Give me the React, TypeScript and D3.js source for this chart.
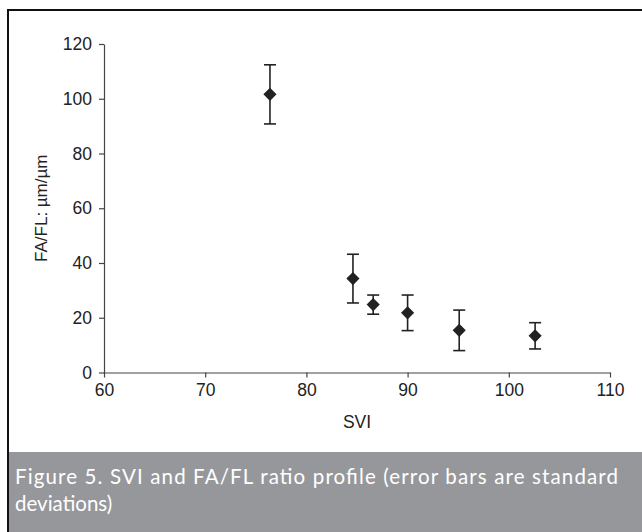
import React, {Component} from 'react';
import * as d3 from 'd3';

// SVI values (x) and FA/FL ratio means with their standard deviations
const svi = [76.4, 84.6, 86.6, 90.0, 95.1, 102.6];
const ratio = [101.6, 34.3, 24.8, 21.8, 15.4, 13.4];
const sd = [10.8, 8.9, 3.5, 6.5, 7.4, 4.8];

const xTicks = [60, 70, 80, 90, 100, 110];
const yTicks = [0, 20, 40, 60, 80, 100, 120];

const captionLines = [
    'Figure 5. SVI and FA/FL ratio profile (error bars are standard',
    'deviations)'
];

const axisFont = '"Liberation Sans", Arial, sans-serif';
const captionFont = 'Lato, "Open Sans", sans-serif';

export default class App extends Component {
    chartArea: SVGGElement | null = null;
    xAxis: SVGGElement | null = null;
    yAxis: SVGGElement | null = null;
    xScale: any;
    yScale: any;

    state = {
        width: 642,
        height: 532,
        margin: {left: 104, right: 32, top: 44, bottom: 159.5}
    };

    componentDidMount() {
        this.update();
    }

    componentDidUpdate() {
        this.update();
    }

    updateScales() {
        const {width, height, margin} = this.state;
        this.xScale = d3.scaleLinear().domain([60, 110]).range([0, width - margin.left - margin.right]);
        this.yScale = d3.scaleLinear().domain([0, 120]).range([height - margin.top - margin.bottom, 0]);
    }

    updateAxes() {
        const xAxisFunction = d3.axisBottom(this.xScale)
            .tickValues(xTicks)
            .tickSize(5)
            .tickSizeOuter(0)
            .tickPadding(6);

        const yAxisFunction = d3.axisLeft(this.yScale)
            .tickValues(yTicks)
            .tickSize(5)
            .tickSizeOuter(0)
            .tickPadding(7);

        for (const [node, fn] of [[this.xAxis, xAxisFunction], [this.yAxis, yAxisFunction]] as any) {
            const g = d3.select(node).call(fn);
            g.selectAll('path, line').attr('stroke', '#444').attr('stroke-width', 1.2);
            g.selectAll('text')
                .attr('fill', '#222')
                .style('font-family', axisFont)
                .style('font-size', '17.5px');
        }
    }

    updatePoints() {
        const data = svi.map((x, i) => ({x, y: ratio[i], sd: sd[i]}));
        const area = d3.select(this.chartArea);
        area.selectAll('*').remove();

        const bars = area.selectAll('g.err').data(data).enter().append('g').attr('class', 'err')
            .attr('stroke', '#222').attr('stroke-width', 1.6);

        bars.append('line')
            .attr('x1', (d) => this.xScale(d.x)).attr('x2', (d) => this.xScale(d.x))
            .attr('y1', (d) => this.yScale(d.y + d.sd)).attr('y2', (d) => this.yScale(d.y - d.sd));
        bars.append('line')
            .attr('x1', (d) => this.xScale(d.x) - 6).attr('x2', (d) => this.xScale(d.x) + 6)
            .attr('y1', (d) => this.yScale(d.y + d.sd)).attr('y2', (d) => this.yScale(d.y + d.sd));
        bars.append('line')
            .attr('x1', (d) => this.xScale(d.x) - 6).attr('x2', (d) => this.xScale(d.x) + 6)
            .attr('y1', (d) => this.yScale(d.y - d.sd)).attr('y2', (d) => this.yScale(d.y - d.sd));

        const diamond = d3.symbol().type(d3.symbolDiamond2).size(110);
        area.selectAll('path.pt').data(data).enter().append('path').attr('class', 'pt')
            .attr('d', diamond)
            .attr('fill', '#222')
            .attr('transform', (d) => `translate(${this.xScale(d.x)},${this.yScale(d.y)})`);
    }

    update() {
        this.updateScales();
        this.updateAxes();
        this.updatePoints();
    }

    render() {
        const {width, height, margin} = this.state;
        const plotW = width - margin.left - margin.right;
        const plotH = height - margin.top - margin.bottom;
        return (
            <svg width={width} height={height}
                style={{position: 'absolute', left: 0, top: 0, background: '#fff'}}>
                {/* frame */}
                <line x1={8} y1={10} x2={width} y2={10} stroke="#111" strokeWidth={2} />
                <line x1={8} y1={9} x2={8} y2={height} stroke="#111" strokeWidth={2} />

                {/* caption */}
                <rect x={9} y={452} width={width - 9} height={height - 452} fill="#96979b" />
                <text x={15} y={484} fill="#fff" fontFamily={captionFont} fontSize={20.5}
                    textLength={603} lengthAdjust="spacing">{captionLines[0]}</text>
                <text x={15} y={511} fill="#fff" fontFamily={captionFont} fontSize={20.5}>{captionLines[1]}</text>

                <g ref={(node) => { this.chartArea = node; }}
                    transform={`translate(${margin.left}, ${margin.top})`} />

                {/* Axes */}
                <g ref={(node) => { this.xAxis = node; }}
                    transform={`translate(${margin.left}, ${margin.top + plotH})`} />
                <g ref={(node) => { this.yAxis = node; }}
                    transform={`translate(${margin.left}, ${margin.top})`} />

                <text x={margin.left + plotW / 2} y={428} textAnchor="middle"
                    fontFamily={axisFont} fontSize={17.5} fill="#222">SVI</text>
                <text transform={`translate(47, ${margin.top + plotH / 2}) rotate(-90)`} textAnchor="middle"
                    fontFamily={axisFont} fontSize={17} fill="#222">FA/FL: µm/µm</text>
            </svg>
        );
    }
}
